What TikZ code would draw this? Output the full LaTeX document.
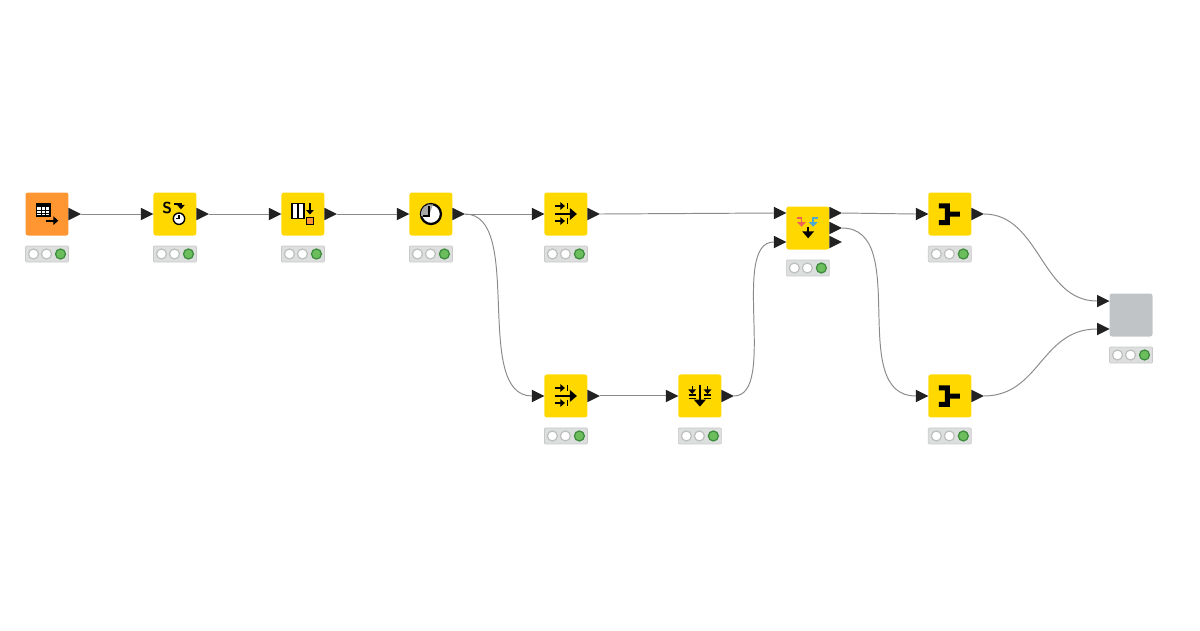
\documentclass[tikz,border=0pt]{standalone}
\usepackage{tikz}
\usetikzlibrary{arrows.meta, shapes.geometric, positioning, calc}

\definecolor{nodeyellow}{HTML}{FFD800}
\definecolor{nodeorange}{HTML}{FF9632}
\definecolor{nodegray}{HTML}{C1C4C7}
\definecolor{statusbg}{HTML}{DCDFDD}
\definecolor{statusline}{HTML}{C8CAC8}
\definecolor{lightgreen}{HTML}{6BBE5B}
\definecolor{lightedge}{HTML}{3C8B3C}
\definecolor{linkgray}{HTML}{8A8A8A}
\definecolor{portblack}{HTML}{222222}
\definecolor{iconred}{HTML}{F0605A}
\definecolor{iconblue}{HTML}{4FA8D0}

% traffic light strip under a node
\newcommand{\statuslights}[1]{%
  \node[status, below = 0.21cm of #1] (#1_status) {};
  \node[lamp] (#1_lamp1) at ($(#1_status.center)+(-13.5,0)$) {};
  \node[lamp] (#1_lamp2) at ($(#1_status.center)+(-0.5,0)$) {};
  \node[lamp, fill=lightgreen, draw=lightedge] (#1_lamp3) at ($(#1_status.center)+(13.5,0)$) {};
}

\begin{document}
\begin{tikzpicture}[
    x=0.02cm, y=-0.02cm,
    % Styles
    box/.style={rectangle, rounded corners=0.05cm, minimum size=0.86cm, inner sep=0pt, outer sep=0pt},
    worker/.style={box, fill=nodeyellow},
    source/.style={box, fill=nodeorange},
    blank/.style={box, fill=nodegray},
    status/.style={rectangle, rounded corners=0.02cm, draw=statusline, fill=statusbg, line width=0.4pt, minimum width=0.86cm, minimum height=0.32cm, inner sep=0pt, outer sep=0pt},
    lamp/.style={circle, draw=statusline!95!black, fill=white, line width=0.7pt, minimum size=0.2cm, inner sep=0pt},
    port/.style={isosceles triangle, isosceles triangle apex angle=53, isosceles triangle stretches, fill=portblack, minimum width=0.25cm, minimum height=0.25cm, inner sep=0pt, outer sep=0pt},
    link/.style={draw=linkgray, line width=0.55pt},
    icon/.style={line width=0.6pt, black},
    bold/.style={-{Triangle[length=0.14cm,width=0.23cm]}, line width=1.4pt, black},
    small/.style={-{Triangle[length=0.09cm,width=0.15cm]}, line width=0.7pt, black}
]
\useasboundingbox (0,0) rectangle (1200,630);

% --- Top row ---
\node[source] (table) at (47,214) {};
\node[worker, right = 1.7cm of table] (string_time) {};
\node[worker, right = 1.7cm of string_time] (column_sort) {};
\node[worker, right = 1.7cm of column_sort] (extract_time) {};
\node[worker, right = 1.84cm of extract_time] (filter_top) {};
\node[worker, right = 3.98cm of filter_top, yshift=-0.28cm] (switch) {};
\node[worker, right = 1.98cm of switch, yshift=0.28cm] (join_top) {};

% --- Bottom row ---
\node[worker, below = 2.78cm of filter_top] (filter_bottom) {};
\node[worker, right = 1.82cm of filter_bottom] (concat) {};
\node[worker, below = 2.78cm of join_top] (join_bottom) {};
\node[blank] (result) at (1131,315) {};

% --- Status strips ---
\foreach \n in {table, string_time, column_sort, extract_time, filter_top, switch, join_top, filter_bottom, concat, join_bottom, result} {
  \statuslights{\n}
}

% --- Ports ---
\node[port, right = 0cm of table] (table_out) {};
\node[port, left = 0cm of string_time] (string_time_in) {};
\node[port, right = 0cm of string_time] (string_time_out) {};
\node[port, left = 0cm of column_sort] (column_sort_in) {};
\node[port, right = 0cm of column_sort] (column_sort_out) {};
\node[port, left = 0cm of extract_time] (extract_time_in) {};
\node[port, right = 0cm of extract_time] (extract_time_out) {};
\node[port, left = 0cm of filter_top] (filter_top_in) {};
\node[port, right = 0cm of filter_top] (filter_top_out) {};
\node[port, left = 0cm of filter_bottom] (filter_bottom_in) {};
\node[port, right = 0cm of filter_bottom] (filter_bottom_out) {};
\node[port, left = 0cm of concat] (concat_in) {};
\node[port, right = 0cm of concat] (concat_out) {};
\node[port, left = 0cm of switch, yshift=0.3cm] (switch_in_a) {};
\node[port, left = 0cm of switch, yshift=-0.28cm] (switch_in_b) {};
\node[port, right = 0cm of switch, yshift=0.3cm] (switch_out_a) {};
\node[port, right = 0cm of switch] (switch_out_b) {};
\node[port, right = 0cm of switch, yshift=-0.28cm] (switch_out_c) {};
\node[port, left = 0cm of join_top] (join_top_in) {};
\node[port, right = 0cm of join_top] (join_top_out) {};
\node[port, left = 0cm of join_bottom] (join_bottom_in) {};
\node[port, right = 0cm of join_bottom] (join_bottom_out) {};
\node[port, left = 0cm of result, yshift=0.28cm] (result_in_a) {};
\node[port, left = 0cm of result, yshift=-0.28cm] (result_in_b) {};

% --- Connectors ---
\draw[link] (table_out.east) -- (string_time_in.west);
\draw[link] (string_time_out.east) -- (column_sort_in.west);
\draw[link] (column_sort_out.east) -- (extract_time_in.west);
\draw[link] (extract_time_out.east) -- (filter_top_in.west);
\draw[link] (extract_time_out.east) .. controls +(60,0) and +(-60,0) .. (filter_bottom_in.west);
\draw[link] (filter_top_out.east) -- (switch_in_a.west);
\draw[link] (filter_bottom_out.east) -- (concat_in.west);
\draw[link] (concat_out.east) .. controls +(44,0) and +(-44,0) .. (switch_in_b.west);
\draw[link] (switch_out_a.east) -- (join_top_in.west);
\draw[link] (switch_out_b.east) .. controls +(70,0) and +(-70,0) .. (join_bottom_in.west);
\draw[link] (join_top_out.east) .. controls +(56,0) and +(-56,0) .. (result_in_a.west);
\draw[link] (join_bottom_out.east) .. controls +(56,0) and +(-56,0) .. (result_in_b.west);

% --- Icons ---
% table creator
\begin{scope}[shift={(table.center)}, icon]
  \draw[fill=white, line width=0.7pt] (-10.3,-10.7) rectangle (3,2);
  \fill (-10.3,-10.7) rectangle (3,-7.5);
  \draw[line width=0.45pt] (-6,-7) -- (-6,2) (-1.5,-7) -- (-1.5,2) (-10.3,-4) -- (3,-4) (-10.3,-1) -- (3,-1);
  \draw[bold, -{Triangle[length=0.1cm,width=0.17cm]}, line width=1.2pt] (-1.3,6.7) -- (11.3,6.7);
\end{scope}
% string to time
\begin{scope}[shift={(string_time.center)}, icon]
  \node[font=\sffamily\bfseries\small, inner sep=0pt] (string_letter) at (-7.7,-6.3) {S};
  \draw[small] (-0.7,-10) -- (6,-10) -- (6,-4.7);
  \draw[fill=white, line width=0.8pt] (4,4.7) circle (5.7);
  \draw (4,4.7) -- (4,1) (4,4.7) -- (1,4.7);
\end{scope}
% column sort
\begin{scope}[shift={(column_sort.center)}, icon]
  \draw[fill=white, line width=0.8pt] (-11,-10.7) rectangle (1,4.3);
  \draw[line width=0.8pt] (-5,-10.7) -- (-5,4.3);
  \draw[small] (7,-10.7) -- (7,0.5);
  \draw[fill=nodeorange, line width=0.7pt] (3.3,3.3) rectangle (10.7,10.7);
\end{scope}
% extract time
\begin{scope}[shift={(extract_time.center)}, icon]
  \draw[fill=white, line width=1.3pt] (0,0) circle (10);
  \fill[black!35] (-2,2) -- (-9.7,2) arc[start angle=168, end angle=282, radius=9.9] -- cycle;
  \draw[line width=1pt] (-2,-8) -- (-2,2) -- (-8,2);
\end{scope}
% row filters
\foreach \n in {filter_top, filter_bottom} {
  \begin{scope}[shift={(\n.center)}, icon]
    \draw[small] (-11,-8) -- (-1,-8);
    \draw (1.7,-11) -- (1.7,-5);
    \draw[small] (-11,7) -- (-1,7);
    \draw (1.7,4) -- (1.7,10);
    \draw[bold] (-11,0) -- (11,0);
  \end{scope}
}
% concatenate
\begin{scope}[shift={(concat.center)}, icon]
  \draw[small] (-7.7,-10) -- (-7.7,-2);
  \draw[small] (7.7,-10) -- (7.7,-2);
  \draw[line width=0.7pt] (-11,-1) -- (-4,-1) (4,-1) -- (11,-1);
  \draw[line width=0.7pt] (-11,2.3) -- (-4,2.3) (4,2.3) -- (11,2.3);
  \draw[bold] (0,-11) -- (0,10.7);
\end{scope}
% switch
\begin{scope}[shift={(switch.center)}, icon]
  \draw[draw=iconred, -{Triangle[length=0.09cm,width=0.17cm]}, line width=1pt] (-10.7,-10.3) -- (-6.3,-10.3) -- (-6.3,-1.3);
  \draw[draw=iconblue, -{Triangle[length=0.09cm,width=0.17cm]}, line width=1pt] (10.3,-10.3) -- (5.3,-10.3) -- (5.3,-1.3);
  \draw[bold] (0.3,-1.3) -- (0.3,10.3);
\end{scope}
% joiners
\foreach \n in {join_top, join_bottom} {
  \begin{scope}[shift={(\n.center)}]
    \fill[black] (-11,-10.7) -- (0,-10.7) -- (0,-2.3) -- (10,-2.3) -- (10,2.7) -- (0,2.7) -- (0,11) -- (-11,11) -- (-11,6) -- (-5,6) -- (-5,-5.7) -- (-11,-5.7) -- cycle;
  \end{scope}
}
\end{tikzpicture}
\end{document}
